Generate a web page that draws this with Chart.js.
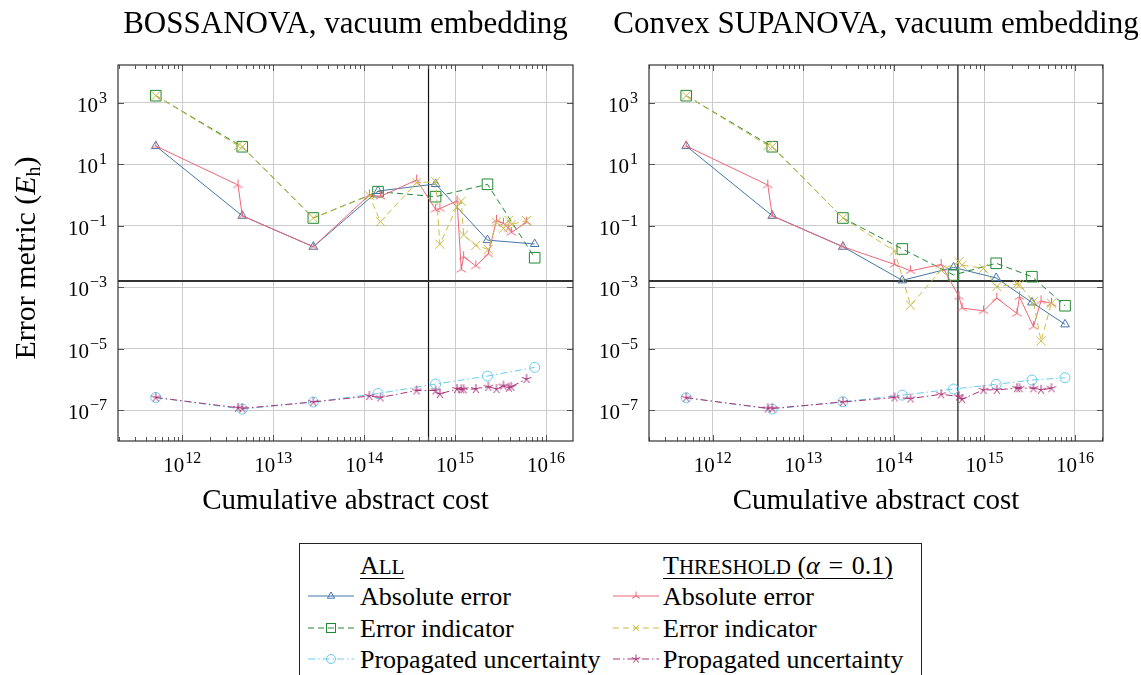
<!DOCTYPE html>
<html lang="en">
<head>
<meta charset="utf-8">
<title>Error metric vs cumulative abstract cost</title>
<script src="https://cdn.jsdelivr.net/npm/chart.js@4.4.1/dist/chart.umd.min.js"></script>
<style>
  html, body { margin: 0; padding: 0; background: #fff; }
  body { width: 1141px; height: 675px; overflow: hidden; position: relative; font-family: "Liberation Serif", serif; color: #000; }
  canvas { position: absolute; top: 0; }
  #left { left: 0; }
  #right { left: 580px; }
  #legend { position: absolute; left: 299px; top: 543px; width: 623px; height: 150px; border: 1px solid #222; box-sizing: border-box; }
  .row { position: absolute; height: 31px; line-height: 31px; font-size: 26px; white-space: nowrap; }
  .hdr { text-decoration: underline; text-underline-offset: 4px; text-decoration-thickness: 1px; }
  .sc { font-size: 21px; }
  .sample { position: absolute; }
</style>
</head>
<body>
<canvas id="left" width="691" height="540"></canvas>
<canvas id="right" width="592" height="540"></canvas>
<div id="legend"></div>
<script>
// BOSSANOVA, all iterations
const bossAllCost = [5.1e11, 4.56e12, 2.76e13, 1.42e14, 6.1e14, 2.27e15, 7.5e15];
const bossAllAbs  = [39, 0.21, 0.0207, 1.34, 2.27, 0.034, 0.0254];
const bossAllInd  = [1690, 37, 0.178, 1.28, 0.88, 2.22, 0.0091];
const bossAllUnc  = [2.6e-7, 1.09e-7, 1.85e-7, 3.5e-7, 7.1e-7, 1.29e-6, 2.48e-6];

// BOSSANOVA, threshold (alpha = 0.1)
const bossThrCost = [5.1e11, 4.1e12, 4.56e12, 2.76e13, 1.14e14, 1.51e14, 3.77e14, 6.1e14, 6.8e14, 1.05e15,
                     1.17e15, 1.24e15, 1.69e15, 2.32e15, 2.85e15, 3.4e15, 3.9e15, 4.15e15, 6.1e15];
const bossThrAbs  = [39, 2.1, 0.21, 0.0207, 1.0, 0.9, 3.06, 0.34, 0.36, 0.64,
                     0.0038, 0.0098, 0.0049, 0.012, 0.15, 0.12, 0.08, 0.06, 0.13];
const bossThrInd  = [1690, 40, 37, 0.178, 0.95, 0.135, 2.5, 2.7, 0.025, 0.41,
                     0.63, 0.05, 0.023, 0.017, 0.13, 0.082, 0.15, 0.11, 0.148];
const bossThrUnc  = [2.6e-7, 1.2e-7, 1.15e-7, 1.85e-7, 2.9e-7, 2.6e-7, 4.4e-7, 4.4e-7, 3.4e-7, 4.9e-7,
                     4.8e-7, 4.8e-7, 4.9e-7, 5.8e-7, 4.9e-7, 6.3e-7, 5.4e-7, 5.8e-7, 1.04e-6];

// Convex SUPANOVA, all iterations
const supAllCost = [5.1e11, 4.55e12, 2.74e13, 1.24e14, 4.56e14, 1.35e15, 3.35e15, 7.77e15];
const supAllAbs  = [39, 0.21, 0.0207, 1.67e-3, 4.4e-3, 2.0e-3, 3.2e-4, 6.2e-5];
const supAllInd  = [1690, 37, 0.178, 0.0175, 2.5e-3, 6.0e-3, 2.2e-3, 2.5e-4];
const supAllUnc  = [2.55e-7, 1.09e-7, 1.89e-7, 3.1e-7, 4.9e-7, 6.95e-7, 9.6e-7, 1.14e-6];

// Convex SUPANOVA, threshold (alpha = 0.1)
const supThrCost = [5.1e11, 4.06e12, 4.55e12, 2.74e13, 1.02e14, 1.53e14, 3.33e14, 5.25e14, 5.67e14, 9.78e14,
                    1.37e15, 2.29e15, 2.44e15, 3.48e15, 4.22e15, 5.5e15];
const supThrAbs  = [39, 2.1, 0.21, 0.0207, 5.5e-3, 3.4e-3, 5.5e-3, 4.9e-4, 2.1e-4, 1.7e-4,
                    4.4e-4, 1.4e-4, 4.9e-4, 5.2e-5, 3.6e-4, 3.0e-4];
const supThrInd  = [1690, 40, 37, 0.178, 0.015, 2.6e-4, 3.6e-3, 6.7e-3, 5.2e-3, 4.1e-3,
                    1.04e-3, 1.25e-3, 1.2e-3, 3.4e-4, 1.8e-5, 3.0e-4];
const supThrUnc  = [2.55e-7, 1.15e-7, 1.15e-7, 1.85e-7, 2.6e-7, 2.4e-7, 3.3e-7, 2.8e-7, 2.3e-7, 4.6e-7,
                    4.6e-7, 5.2e-7, 5.2e-7, 5.2e-7, 4.6e-7, 5.2e-7];

// reference lines
const chemAcc = 1.6e-3;
const costMark = 5.1e14;

// axes
const xTicks = [1e12, 1e13, 1e14, 1e15, 1e16];
const yTicks = [1e-7, 1e-5, 1e-3, 1e-1, 1e1, 1e3];
const yMin = 1e-8, yMax = 1.68e4;

const titles = ['BOSSANOVA, vacuum embedding', 'Convex SUPANOVA, vacuum embedding'];
const labels = ['Absolute error', 'Error indicator', 'Propagated uncertainty'];

const FONT = '"Liberation Serif", serif';

// custom marks (flipped mercedes star and 5-ray star)
function rayMarker(angles, color, r) {
  const c = document.createElement('canvas');
  const s = Math.ceil(2 * r + 4);
  c.width = s; c.height = s;
  const ctx = c.getContext('2d');
  ctx.strokeStyle = color;
  ctx.lineWidth = 1;
  ctx.beginPath();
  for (const a of angles) {
    const t = a * Math.PI / 180;
    ctx.moveTo(s / 2, s / 2);
    ctx.lineTo(s / 2 + r * Math.cos(t), s / 2 + r * Math.sin(t));
  }
  ctx.stroke();
  return c;
}
const TRI = [-90, 30, 150];
const STAR = [-90, -18, 54, 126, 198];
const XROT = [45, 135, 225, 315];

const st = {
  allAbs: { color: '#4477AA', dash: [], point: 'triangle', r: 5, mark: 'triangle', order: 5 },
  allInd: { color: '#228833', dash: [6, 4], point: 'rect', r: 7.5, mark: 'rect', order: 4 },
  allUnc: { color: '#66CCEE', dash: [7, 3, 1.5, 3], point: 'circle', r: 5, mark: 'circle', order: 4 },
  thrAbs: { color: '#EE6677', dash: [], point: rayMarker(TRI, '#EE6677', 5.5), r: 5, mark: TRI, order: 2 },
  thrInd: { color: '#CCBB44', dash: [6, 4], point: 'crossRot', r: 6.4, mark: XROT, order: 1 },
  thrUnc: { color: '#AA3377', dash: [7, 3, 1.5, 3], point: rayMarker(STAR, '#AA3377', 5), r: 5, mark: STAR, order: 1 }
};

function series(xs, ys, s) {
  return {
    data: xs.map((x, i) => ({ x: x, y: ys[i] })),
    showLine: true,
    borderColor: s.color,
    borderWidth: 1,
    borderDash: s.dash,
    backgroundColor: 'transparent',
    pointStyle: s.point,
    pointRadius: s.r,
    pointBorderColor: s.color,
    pointBackgroundColor: 'transparent',
    pointBorderWidth: 1,
    order: s.order
  };
}

function refLines(xMin, xMax) {
  return [
    { data: [{ x: xMin, y: chemAcc }, { x: xMax, y: chemAcc }], showLine: true, borderColor: '#333',
      borderWidth: 2, pointRadius: 0, order: 10 },
    { data: [{ x: costMark, y: yMin }, { x: costMark, y: yMax }], showLine: true, borderColor: '#111',
      borderWidth: 1.2, pointRadius: 0, order: 10 }
  ];
}

function drawPow(ctx, exp, x, yBase, align) {
  const base = '10';
  const ex = String(exp).replace('-', '\u2212');
  ctx.font = '21px ' + FONT;
  const wb = ctx.measureText(base).width;
  ctx.font = '16px ' + FONT;
  const we = ctx.measureText(ex).width;
  const total = wb + 1 + we;
  const x0 = align === 'right' ? x - total : x - total / 2;
  ctx.textAlign = 'left';
  ctx.textBaseline = 'alphabetic';
  ctx.fillStyle = '#000';
  ctx.font = '21px ' + FONT;
  ctx.fillText(base, x0, yBase);
  ctx.font = '16px ' + FONT;
  ctx.fillText(ex, x0 + wb + 1, yBase - 9);
}

function drawYTitle(ctx, cx, cy) {
  const parts = [
    ['Error metric (', '30px ' + FONT, 0],
    ['E', 'italic 30px ' + FONT, 0],
    ['h', '20px ' + FONT, 5],
    [')', '30px ' + FONT, 0]
  ];
  let w = 0;
  for (const p of parts) { ctx.font = p[1]; w += ctx.measureText(p[0]).width; }
  ctx.save();
  ctx.translate(cx, cy);
  ctx.rotate(-Math.PI / 2);
  ctx.textAlign = 'left';
  ctx.textBaseline = 'alphabetic';
  ctx.fillStyle = '#000';
  let x = -w / 2;
  for (const p of parts) {
    ctx.font = p[1];
    ctx.fillText(p[0], x, 10 + p[2]);
    x += ctx.measureText(p[0]).width;
  }
  ctx.restore();
}

// frame, inner ticks, tick labels
const decor = {
  id: 'decor',
  afterDraw(chart, args, opts) {
    const ctx = chart.ctx;
    const a = chart.chartArea;
    const x = chart.scales.x, y = chart.scales.y;
    ctx.save();
    ctx.strokeStyle = '#555';
    ctx.lineWidth = 1;
    ctx.beginPath();
    for (let e = 11; e <= 16; e++) {
      for (let m = 1; m <= 9; m++) {
        const v = m * Math.pow(10, e);
        if (v < x.min || v > x.max) continue;
        const px = Math.round(x.getPixelForValue(v)) + 0.5;
        const len = m === 1 ? 6 : 4;
        ctx.moveTo(px, a.top); ctx.lineTo(px, a.top + len);
        ctx.moveTo(px, a.bottom); ctx.lineTo(px, a.bottom - len);
      }
    }
    for (const v of yTicks) {
      const py = Math.round(y.getPixelForValue(v)) + 0.5;
      ctx.moveTo(a.left, py); ctx.lineTo(a.left + 6, py);
      ctx.moveTo(a.right, py); ctx.lineTo(a.right - 6, py);
    }
    ctx.stroke();
    ctx.strokeStyle = '#333';
    ctx.lineWidth = 1.2;
    ctx.strokeRect(a.left, a.top, a.right - a.left, a.bottom - a.top);

    for (const v of xTicks) {
      drawPow(ctx, Math.round(Math.log10(v)), x.getPixelForValue(v), a.bottom + 30.5, 'center');
    }
    for (const v of yTicks) {
      drawPow(ctx, Math.round(Math.log10(v)), a.left - 11, y.getPixelForValue(v) + 9, 'right');
    }
    if (opts.yTitle) drawYTitle(ctx, 25, (a.top + a.bottom) / 2 + 5);
    ctx.restore();
  }
};

function makeChart(id, title, side, sets, xMin, xMax, yTitle) {
  return new Chart(document.getElementById(id), {
    type: 'scatter',
    data: { datasets: sets.concat(refLines(xMin, xMax)) },
    options: {
      responsive: false,
      animation: false,
      devicePixelRatio: 1,
      events: [],
      layout: { padding: 0 },
      plugins: {
        legend: { display: false },
        tooltip: { enabled: false },
        title: {
          display: true, text: title, color: '#000',
          font: { family: FONT, size: 31, weight: 'normal' },
          padding: { top: 6.4, bottom: 21.4 }
        },
        decor: { yTitle: yTitle }
      },
      scales: {
        x: {
          type: 'logarithmic', min: xMin, max: xMax,
          afterBuildTicks: s => { s.ticks = xTicks.map(v => ({ value: v })); },
          afterFit: s => { s.height = 99; },
          ticks: { display: false },
          grid: { color: '#cccccc', lineWidth: 1, drawTicks: false },
          border: { display: false },
          title: {
            display: true, text: 'Cumulative abstract cost', color: '#000',
            font: { family: FONT, size: 29 }, padding: { top: 0, bottom: 21.6 }
          }
        },
        y: {
          type: 'logarithmic', min: yMin, max: yMax,
          afterBuildTicks: s => { s.ticks = yTicks.map(v => ({ value: v })); },
          afterFit: s => { s.width = side; },
          ticks: { display: false },
          grid: { color: '#cccccc', lineWidth: 1, drawTicks: false },
          border: { display: false }
        },
        // empty spacer on the right so the title centres over the plot
        yr: {
          type: 'linear', position: 'right', display: true,
          afterFit: s => { s.width = side; },
          ticks: { display: false },
          grid: { display: false },
          border: { display: false }
        }
      }
    },
    plugins: [decor]
  });
}

makeChart('left', titles[0], 118, [
  series(bossAllCost, bossAllAbs, st.allAbs),
  series(bossAllCost, bossAllInd, st.allInd),
  series(bossAllCost, bossAllUnc, st.allUnc),
  series(bossThrCost, bossThrAbs, st.thrAbs),
  series(bossThrCost, bossThrInd, st.thrInd),
  series(bossThrCost, bossThrUnc, st.thrUnc)
], 1.96e11, 1.98e16, true);

makeChart('right', titles[1], 69, [
  series(supAllCost, supAllAbs, st.allAbs),
  series(supAllCost, supAllInd, st.allInd),
  series(supAllCost, supAllUnc, st.allUnc),
  series(supThrCost, supThrAbs, st.thrAbs),
  series(supThrCost, supThrInd, st.thrInd),
  series(supThrCost, supThrUnc, st.thrUnc)
], 1.98e11, 2.04e16, false);

// legend
function rays(angles, cx, cy, r) {
  return angles.map(a => {
    const t = a * Math.PI / 180;
    return `M${cx} ${cy}L${(cx + r * Math.cos(t)).toFixed(2)} ${(cy + r * Math.sin(t)).toFixed(2)}`;
  }).join('');
}

function sampleSvg(s) {
  const w = 46, cx = 23, cy = 10;
  const a = `stroke="${s.color}" stroke-width="1" fill="none"`;
  let mk;
  if (s.mark === 'triangle') mk = `<polygon points="${cx},${cy - 4} ${cx + 3.6},${cy + 2.2} ${cx - 3.6},${cy + 2.2}" ${a}/>`;
  else if (s.mark === 'rect') mk = `<rect x="${cx - 4.5}" y="${cy - 4.5}" width="9" height="9" ${a}/>`;
  else if (s.mark === 'circle') mk = `<circle cx="${cx}" cy="${cy}" r="4.5" ${a}/>`;
  else mk = `<path d="${rays(s.mark, cx, cy, 4.5)}" ${a}/>`;
  const dash = s.dash.length ? `stroke-dasharray="${s.dash.join(' ')}"` : '';
  return `<svg width="${w}" height="20"><line x1="0" y1="${cy}" x2="${w}" y2="${cy}" stroke="${s.color}" stroke-width="1" ${dash}/>${mk}</svg>`;
}

const legend = document.getElementById('legend');
const rowCenters = [21, 52, 84, 115];
function addRow(left, center, html, cls) {
  const d = document.createElement('div');
  d.className = 'row' + (cls ? ' ' + cls : '');
  d.style.left = left + 'px';
  d.style.top = (center - 15.5) + 'px';
  d.innerHTML = html;
  legend.appendChild(d);
}
function addSample(left, center, s) {
  const d = document.createElement('div');
  d.className = 'sample';
  d.style.left = left + 'px';
  d.style.top = (center - 10) + 'px';
  d.innerHTML = sampleSvg(s);
  legend.appendChild(d);
}

// small caps headers written out by hand
addRow(60, rowCenters[0], 'A<span class="sc">LL</span>', 'hdr');
addRow(363, rowCenters[0], 'T<span class="sc">HRESHOLD</span> (<i>\u03b1</i>\u2004=\u20040.1)', 'hdr');
const colAll = [st.allAbs, st.allInd, st.allUnc];
const colThr = [st.thrAbs, st.thrInd, st.thrUnc];
for (let i = 0; i < 3; i++) {
  addSample(8, rowCenters[i + 1], colAll[i]);
  addRow(60, rowCenters[i + 1], labels[i]);
  addSample(313, rowCenters[i + 1], colThr[i]);
  addRow(363, rowCenters[i + 1], labels[i]);
}
</script>
</body>
</html>
